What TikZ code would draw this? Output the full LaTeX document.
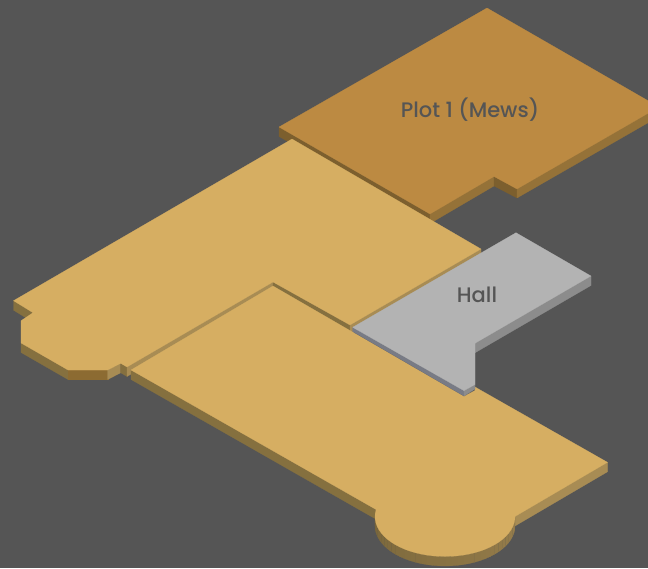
\documentclass[tikz,border=0pt]{standalone}
\usepackage{fontspec}
\setmainfont{Poppins Medium}
\definecolor{ground}{HTML}{555555}
\definecolor{floortop}{HTML}{D6AE62}
\definecolor{floorlight}{HTML}{A88C54}
\definecolor{floordark}{HTML}{85703F}
\definecolor{floorflat}{HTML}{8C6B32}
\definecolor{plottop}{HTML}{BC8A42}
\definecolor{plotlight}{HTML}{957238}
\definecolor{plotdark}{HTML}{7C5F2E}
\definecolor{halltop}{HTML}{B3B3B3}
\definecolor{halllight}{HTML}{8C8C8C}
\definecolor{halldark}{HTML}{787B85}
\tikzset{
	face/.style={fill=#1,draw=#1,line width=.2pt},
	roomlabel/.style={text=ground,inner sep=0pt,font=\fontsize{21}{21}\selectfont}
}

\begin{document}
\begin{tikzpicture}[x=1pt,y=-1pt]
	\useasboundingbox (0,0) rectangle (648,568);
	\clip (0,0) rectangle (648,568);
	\fill[ground] (0,0) rectangle (648,568);
	
	%plot 1
	\path[face=plotdark] (279,127)--(430,214)--++(0,9.5)--(279,136.5)--cycle;
	\path[face=plotlight] (430,214)--(494,176.5)--++(0,9.5)--(430,223.5)--cycle;
	\path[face=plotdark] (494,176.5)--(517,189)--++(0,9)--(494,186)--cycle;
	\path[face=plotlight] (517,189)--(659,107)--++(0,9.5)--(517,198)--cycle;
	\path[face=plottop] (487,8)--(659,107)--(517,189)--(494,176.5)--(430,214)--(279,127)--cycle;
	
	%upper floor
	\path[face=floordark] (13.5,300.7)--(33,312.7)--++(0,9.5)--(13.5,310.2)--cycle;
	\path[face=floordark] (21,343)--(68,370)--++(0,9.5)--(21,352.5)--cycle;
	\path[face=floorflat] (68,370)--(107.7,370)--++(0,9.5)--(68,379.5)--cycle;
	\path[face=floorlight] (107.7,370)--(120.7,363.3)--++(0,9.5)--(107.7,379.5)--cycle;
	\path[face=floordark] (120.7,363.3)--(127,367)--++(0,9.5)--(120.7,372.8)--cycle;
	\path[face=floorlight] (127,367)--(273,282)--++(0,9.5)--(127,376.5)--cycle;
	\path[face=floordark] (273,282)--(350,325)--++(0,9.5)--(273,291.5)--cycle;
	\path[face=floorlight] (350,325)--(481,249)--++(0,9.5)--(350,334.5)--cycle;
	\path[face=floortop] (292,139)--(481,249)--(350,325)--(273,282)--(127,367)--(120.7,363.3)--(107.7,370)
		--(68,370)--(21,343)--(21,320.7)--(33,312.7)--(13.5,300.7)--cycle;
	
	%lower floor
	\path[face=floordark] (131,370)--(375.6,509.5)--++(0,9.5)--(131,379.5)--cycle;
	\path[face=floorlight] (607.5,462.3)--(515,516.5)--++(0,9.5)--(607.5,471.8)--cycle;
	%round end, one strip at a time
	\foreach \a in {0,5,...,185} {
		\pgfmathsetmacro\shade{100-\a/1.9}
		\path[face=floorlight!\shade!floordark!90!black]
			({445+70*cos(\a)},{516.5+40*sin(\a)})--({445+70*cos(\a+5)},{516.5+40*sin(\a+5)})
			--++(0,9.5)--({445+70*cos(\a)},{526+40*sin(\a)})--cycle;
	}
	\path[face=floortop] (131,370)--(273,286)--(464,396.5)--(475,390.5)--(475,387)--(607.5,462.3)--(515,516.5)
		--plot[domain=0:190,samples=39] ({445+70*cos(\x)},{516.5+40*sin(\x)})--cycle;
	
	%hall
	\path[face=halllight] (591,276)--(475,343.3)--++(0,9.5)--(591,285.5)--cycle;
	\path[face=halldark] (352.7,327.3)--(464,390.7)--(464,396)--(352.7,331.5)--cycle;
	\path[face=halllight] (464,390.7)--(475,384.5)--(475,389)--(464,396)--cycle;
	\path[face=halltop] (516,232.7)--(591,276)--(475,343.3)--(475,384.5)--(464,390.7)--(352.7,327.3)--cycle;
	
	%labels
	\node[roomlabel] (plotname) at (470,110) {Plot 1 (Mews)};
	\node[roomlabel] (hallname) at (477,295) {Hall};
\end{tikzpicture}
\end{document}
